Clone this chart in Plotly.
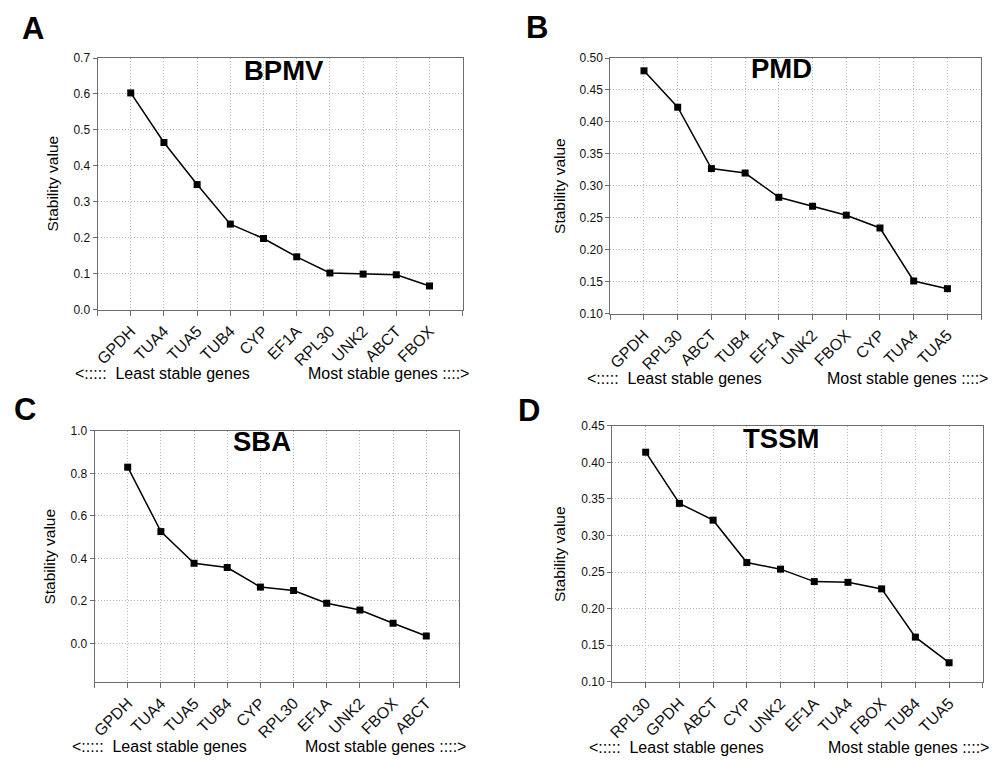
import plotly.graph_objects as go

# ---------------- data ----------------
genes_A = ["GPDH", "TUA4", "TUA5", "TUB4", "CYP", "EF1A", "RPL30", "UNK2", "ABCT", "FBOX"]
vals_A = [0.603, 0.465, 0.348, 0.238, 0.198, 0.147, 0.102, 0.099, 0.097, 0.066]

genes_B = ["GPDH", "RPL30", "ABCT", "TUB4", "EF1A", "UNK2", "FBOX", "CYP", "TUA4", "TUA5"]
vals_B = [0.480, 0.423, 0.327, 0.320, 0.282, 0.268, 0.254, 0.234, 0.151, 0.139]

genes_C = ["GPDH", "TUA4", "TUA5", "TUB4", "CYP", "RPL30", "EF1A", "UNK2", "FBOX", "ABCT"]
vals_C = [0.829, 0.526, 0.377, 0.357, 0.265, 0.249, 0.189, 0.157, 0.095, 0.035]

genes_D = ["RPL30", "GPDH", "ABCT", "CYP", "UNK2", "EF1A", "TUA4", "FBOX", "TUB4", "TUA5"]
vals_D = [0.414, 0.344, 0.321, 0.263, 0.254, 0.237, 0.236, 0.227, 0.161, 0.126]

titles = ["BPMV", "PMD", "SBA", "TSSM"]
letters = ["A", "B", "C", "D"]
y_ranges = [[0, 0.7], [0.10, 0.50], [-0.18, 1.0], [0.10, 0.45]]
y_dticks = [0.1, 0.05, 0.2, 0.05]
y_tick0 = [0, 0.10, 0.0, 0.10]
y_formats = [".1f", ".2f", ".1f", ".2f"]
left_label = "&lt;:::::\u00a0 Least stable genes"
right_label = "Most stable genes ::::&gt;"
y_title = "Stability value"

W, H = 1005, 765
FONT = "Arial, Liberation Sans, sans-serif"
GRID = "#b5b5b5"
FRAME = "#6e6e6e"

def px(x):
    return x / W

def py(y):
    return 1 - y / H

# panel plot-area boxes in pixels: left, right, top, bottom
boxes = [(93, 460, 52, 308.3), (608.3, 981, 52, 312.3),
         (90, 456.7, 431.7, 687.3), (610, 982.7, 426.7, 687.3)]
title_pos = [(280, 65), (780, 63), (258, 443), (780, 440)]
letter_pos = [(28, 22), (535, 21), (20, 410), (527, 411)]
ytitle_pos = [(48, 180), (557, 182), (45, 560), (558, 557)]
bottom_pos = [(68, 468, 373), (583, 990, 378), (65, 465, 753), (585, 991, 754)]

genes_all = [genes_A, genes_B, genes_C, genes_D]
vals_all = [vals_A, vals_B, vals_C, vals_D]

fig = go.Figure()
annotations = []
layout_axes = {}
for i in range(4):
    n = i + 1
    xa = "x" if n == 1 else f"x{n}"
    ya = "y" if n == 1 else f"y{n}"
    genes = genes_all[i]
    vals = vals_all[i]
    fig.add_trace(go.Scatter(
        x=list(range(len(genes))), y=vals, xaxis=xa, yaxis=ya,
        mode="lines+markers",
        line=dict(color="black", width=1.5),
        marker=dict(symbol="square", size=7, color="black"),
        showlegend=False, cliponaxis=False,
    ))
    l, r, t, b = boxes[i]
    xkey = "xaxis" if n == 1 else f"xaxis{n}"
    ykey = "yaxis" if n == 1 else f"yaxis{n}"
    layout_axes[xkey] = dict(
        domain=[px(l), px(r)], anchor=ya, range=[-1, len(genes)],
        tickmode="array", tickvals=list(range(-1, len(genes) + 1)),
        ticktext=[""] + genes + [""], tickangle=-45,
        tickfont=dict(family=FONT, size=16, color="#111"),
        showline=True, mirror=True, linecolor=FRAME, linewidth=1,
        ticks="outside", ticklen=5, tickcolor=FRAME,
        showgrid=True, gridcolor=GRID, griddash="1px,2px", gridwidth=1,
        zeroline=False, fixedrange=True,
    )
    layout_axes[ykey] = dict(
        domain=[py(b), py(t)], anchor=xa, range=y_ranges[i],
        tickmode="linear", tick0=y_tick0[i], dtick=y_dticks[i],
        tickformat=y_formats[i],
        tickfont=dict(family=FONT, size=12, color="#111"),
        showline=True, mirror=True, linecolor=FRAME, linewidth=1,
        ticks="outside", ticklen=4, tickcolor=FRAME,
        showgrid=True, gridcolor=GRID, griddash="1px,2px", gridwidth=1,
        zeroline=False, fixedrange=True,
    )
    tx, ty = title_pos[i]
    annotations.append(dict(text=f"<b>{titles[i]}</b>", x=px(tx), y=py(ty),
                            xref="paper", yref="paper", showarrow=False,
                            xanchor="center", yanchor="middle",
                            font=dict(family=FONT, size=27.5, color="black")))
    lx, ly = letter_pos[i]
    annotations.append(dict(text=f"<b>{letters[i]}</b>", x=px(lx), y=py(ly),
                            xref="paper", yref="paper", showarrow=False,
                            xanchor="center", yanchor="middle",
                            font=dict(family=FONT, size=31, color="black")))
    yx, yy = ytitle_pos[i]
    annotations.append(dict(text=y_title, x=px(yx), y=py(yy), textangle=-90,
                            xref="paper", yref="paper", showarrow=False,
                            xanchor="center", yanchor="middle",
                            font=dict(family=FONT, size=15.5, color="black")))
    bl, br, by = bottom_pos[i]
    annotations.append(dict(text=left_label, x=px(bl), y=py(by),
                            xref="paper", yref="paper", showarrow=False,
                            xanchor="left", yanchor="middle",
                            font=dict(family=FONT, size=16, color="black")))
    annotations.append(dict(text=right_label, x=px(br), y=py(by),
                            xref="paper", yref="paper", showarrow=False,
                            xanchor="right", yanchor="middle",
                            font=dict(family=FONT, size=16, color="black")))

fig.update_layout(
    width=W, height=H, margin=dict(l=0, r=0, t=0, b=0),
    paper_bgcolor="white", plot_bgcolor="white",
    annotations=annotations, **layout_axes,
)
fig.write_html("out.html", config={"displayModeBar": False})
